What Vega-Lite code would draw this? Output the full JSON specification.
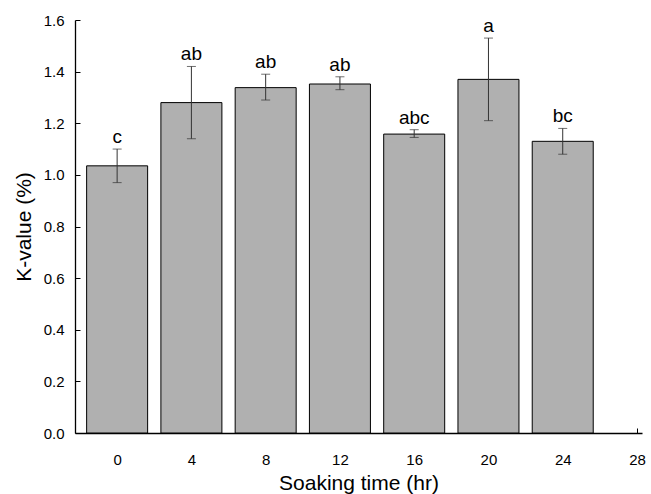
{
  "$schema": "https://vega.github.io/schema/vega-lite/v6.json",
  "autosize": {"type": "none"},
  "padding": {"left": 75, "top": 20, "right": 9, "bottom": 61},
  "width": 567,
  "height": 413,
  "background": "white",
  "config": {
    "view": {"stroke": null},
    "font": "Liberation Sans",
    "axis": {
      "domainColor": "#000000",
      "domainWidth": 1.3,
      "tickColor": "#000000",
      "tickWidth": 1,
      "tickSize": -5,
      "labelFont": "Liberation Sans",
      "labelFontSize": 15,
      "labelColor": "#000000",
      "titleFont": "Liberation Sans",
      "titleFontSize": 21,
      "titleFontWeight": "normal",
      "titleColor": "#000000",
      "grid": false
    }
  },
  "data": {
    "values": [
      {"time": 0, "k": 1.035, "lo": 0.97, "hi": 1.10, "label": "c"},
      {"time": 4, "k": 1.28, "lo": 1.14, "hi": 1.42, "label": "ab"},
      {"time": 8, "k": 1.338, "lo": 1.29, "hi": 1.39, "label": "ab"},
      {"time": 12, "k": 1.352, "lo": 1.33, "hi": 1.38, "label": "ab"},
      {"time": 16, "k": 1.158, "lo": 1.145, "hi": 1.175, "label": "abc"},
      {"time": 20, "k": 1.37, "lo": 1.21, "hi": 1.53, "label": "a"},
      {"time": 24, "k": 1.13, "lo": 1.08, "hi": 1.18, "label": "bc"}
    ]
  },
  "encoding": {
    "x": {
      "field": "time",
      "type": "quantitative",
      "scale": {"domain": [-2, 28], "nice": false, "zero": false},
      "axis": {
        "values": [0, 4, 8, 12, 16, 20, 24, 28],
        "title": "Soaking time (hr)",
        "labelPadding": 24,
        "titlePadding": 5
      }
    }
  },
  "layer": [
    {
      "mark": {"type": "bar", "size": 61, "fill": "#b0b0b0", "stroke": "#000000", "strokeWidth": 1},
      "encoding": {
        "y": {
          "field": "k",
          "type": "quantitative",
          "scale": {"domain": [0, 1.6], "nice": false},
          "axis": {
            "values": [0, 0.2, 0.4, 0.6, 0.8, 1.0, 1.2, 1.4, 1.6],
            "format": ".1f",
            "title": "K-value (%)",
            "labelPadding": 16,
            "titlePadding": 9
          }
        }
      }
    },
    {
      "mark": {"type": "rule", "color": "#333333", "strokeWidth": 1},
      "encoding": {
        "y": {"field": "lo", "type": "quantitative"},
        "y2": {"field": "hi"}
      }
    },
    {
      "mark": {"type": "tick", "color": "#333333", "size": 9, "thickness": 1, "orient": "horizontal"},
      "encoding": {"y": {"field": "lo", "type": "quantitative"}}
    },
    {
      "mark": {"type": "tick", "color": "#333333", "size": 9, "thickness": 1, "orient": "horizontal"},
      "encoding": {"y": {"field": "hi", "type": "quantitative"}}
    },
    {
      "mark": {"type": "text", "baseline": "alphabetic", "dy": -6, "fontSize": 19, "color": "#000000", "font": "Liberation Sans"},
      "encoding": {
        "y": {"field": "hi", "type": "quantitative"},
        "text": {"field": "label"}
      }
    }
  ]
}
